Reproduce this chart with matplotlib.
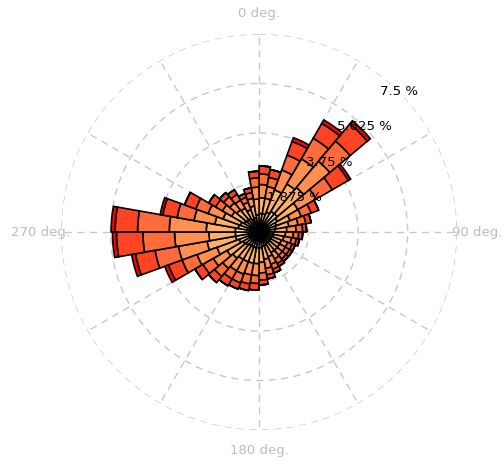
import numpy as np
import matplotlib
matplotlib.use("Agg")
import matplotlib.pyplot as plt

# Wind direction sectors (degrees, clockwise from north), 10-degree bins
sector_start = list(range(0, 360, 10))

# Frequency (%) per sector for each speed class, lowest speed first
speed_1 = [0.7, 0.7, 0.8, 0.9, 0.9, 0.8, 0.7, 0.65, 0.6, 0.55, 0.55, 0.5,
           0.5, 0.5, 0.5, 0.55, 0.55, 0.6, 0.6, 0.6, 0.6, 0.6, 0.65, 0.7,
           0.8, 0.9, 0.9, 0.9, 0.8, 0.75, 0.65, 0.6, 0.6, 0.5, 0.55, 0.65]
speed_2 = [0.6, 0.6, 0.9, 1.2, 1.3, 0.9, 0.55, 0.5, 0.45, 0.45, 0.4, 0.4,
           0.4, 0.4, 0.4, 0.45, 0.5, 0.55, 0.6, 0.6, 0.6, 0.6, 0.65, 0.7,
           0.9, 1.1, 1.0, 1.1, 0.9, 0.7, 0.55, 0.5, 0.45, 0.4, 0.45, 0.6]
speed_3 = [0.5, 0.45, 0.8, 1.1, 1.3, 0.8, 0.45, 0.35, 0.35, 0.3, 0.3, 0.25,
           0.25, 0.25, 0.28, 0.3, 0.35, 0.4, 0.45, 0.45, 0.5, 0.5, 0.5, 0.6,
           0.8, 1.1, 1.3, 1.4, 0.8, 0.6, 0.4, 0.35, 0.35, 0.3, 0.3, 0.45]
speed_4 = [0.4, 0.35, 0.6, 0.9, 1.0, 0.7, 0.4, 0.3, 0.25, 0.2, 0.18, 0.18,
           0.18, 0.18, 0.2, 0.2, 0.25, 0.27, 0.3, 0.35, 0.35, 0.35, 0.4, 0.45,
           0.6, 0.9, 1.2, 1.2, 0.65, 0.5, 0.3, 0.3, 0.25, 0.2, 0.22, 0.35]
speed_5 = [0.3, 0.3, 0.55, 0.65, 0.85, 0.7, 0.3, 0.2, 0.15, 0.15, 0.12, 0.12,
           0.12, 0.12, 0.12, 0.15, 0.15, 0.18, 0.25, 0.25, 0.25, 0.3, 0.3, 0.35,
           0.55, 0.75, 1.0, 0.85, 0.55, 0.45, 0.3, 0.2, 0.2, 0.15, 0.18, 0.25]
speed_6 = [0.0, 0.0, 0.15, 0.15, 0.15, 0.1, 0.0, 0.0, 0.0, 0.0, 0.0, 0.0,
           0.0, 0.0, 0.0, 0.0, 0.0, 0.0, 0.0, 0.0, 0.0, 0.0, 0.0, 0.0,
           0.15, 0.15, 0.15, 0.15, 0.1, 0.0, 0.0, 0.0, 0.0, 0.0, 0.0, 0.0]

speed_colors = ["#FFD68E", "#FFB068", "#FF9050", "#FF6C3C", "#FF4424", "#FF0000"]

ring_values = [1.875, 3.75, 5.625, 7.5]
ring_labels = ["1.875 %", "3.75 %", "5.625 %", "7.5 %"]
compass_angles = [0, 90, 180, 270]
compass_labels = ["0 deg.", "90 deg.", "180 deg.", "270 deg."]

fig = plt.figure(figsize=(5.04, 4.65), dpi=100)
ax = fig.add_axes([0.121, 0.075, 0.786, 0.852], projection="polar")
ax.set_theta_zero_location("N")
ax.set_theta_direction(-1)
ax.set_ylim(0, 7.5)

grid_kw = dict(color="#C8C8C8", linestyle=(0, (5, 4)), linewidth=1.0)
ax.set_xticks(np.deg2rad(np.arange(0, 360, 30)))
ax.set_xticklabels([])
ax.set_yticks(ring_values)
ax.set_yticklabels([])
ax.xaxis.grid(True, **grid_kw)
ax.yaxis.grid(True, **grid_kw)
ax.spines["polar"].set_visible(False)
ax.set_axisbelow(True)
ax.tick_params(length=0)

theta = np.deg2rad(np.array(sector_start) + 5)
width = np.deg2rad(10)
bottom = np.zeros(len(sector_start))
for vals, col in zip([speed_1, speed_2, speed_3, speed_4, speed_5, speed_6], speed_colors):
    vals = np.array(vals)
    ax.bar(theta, vals, width=width, bottom=bottom, color=col,
           edgecolor="black", linewidth=1.2, align="center", zorder=2)
    bottom = bottom + vals

for ang, lab in zip(compass_angles, compass_labels):
    ax.text(np.deg2rad(ang), 8.27, lab, ha="center", va="center",
            color="#BDBDBD", fontsize=9.5, clip_on=False)

for val, lab in zip(ring_values, ring_labels):
    ax.text(np.deg2rad(45), val, lab, ha="center", va="center",
            color="black", fontsize=9.5, zorder=5)

fig.savefig("out.png", dpi=100, facecolor="white")
